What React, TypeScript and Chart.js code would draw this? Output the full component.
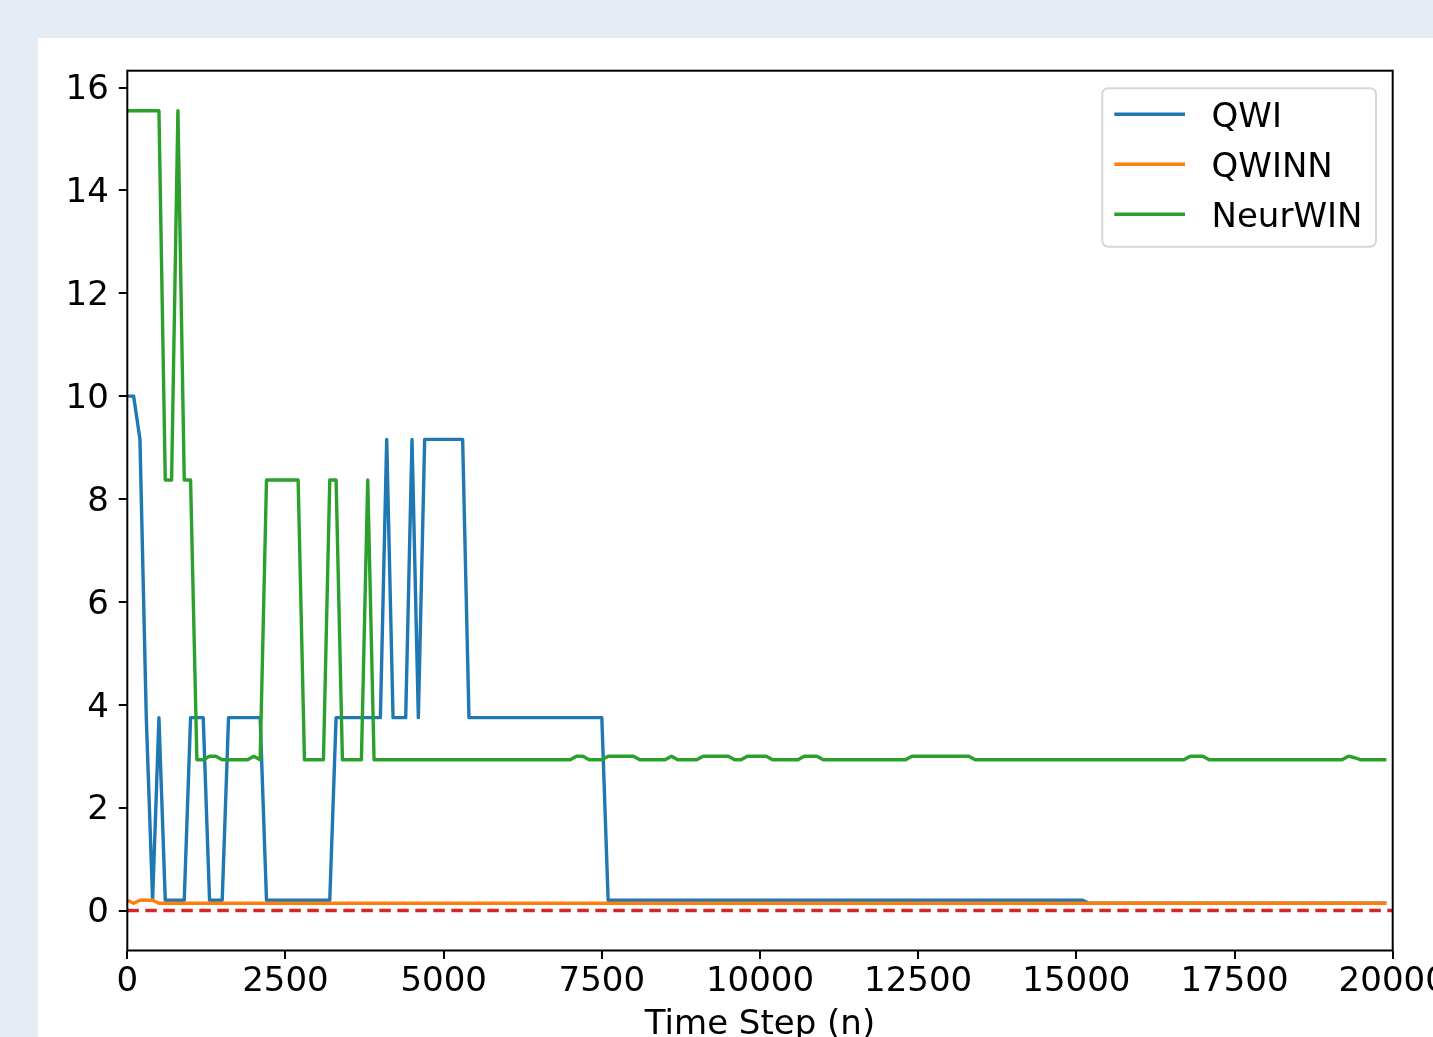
import React, { useEffect, useRef } from "react";
import { Chart, registerables } from "chart.js";

Chart.register(...registerables);

// ---- data ----
const qwiSteps = [0, 100, 200, 300, 400, 500, 600, 900, 1000, 1200, 1300, 1500, 1600, 2100, 2200, 3200, 3300, 4000, 4100, 4200, 4400, 4500, 4600, 4700, 5300, 5400, 7500, 7600, 15100, 15200, 19900];
const qwiValues = [10, 10, 9.16, 3.75, 0.2, 3.75, 0.2, 0.2, 3.75, 3.75, 0.2, 0.2, 3.75, 3.75, 0.2, 0.2, 3.75, 3.75, 9.16, 3.75, 3.75, 9.16, 3.75, 9.16, 9.16, 3.75, 3.75, 0.2, 0.2, 0.14, 0.14];

const qwinnSteps = [0, 100, 200, 400, 500, 19900];
const qwinnValues = [0.2, 0.14, 0.2, 0.2, 0.14, 0.14];

const neurwinSteps = [0, 500, 600, 700, 800, 900, 1000, 1100, 1200, 1300, 1400, 1500, 1900, 2000, 2100, 2200, 2700, 2800, 3100, 3200, 3300, 3400, 3700, 3800, 3900, 7000, 7100, 7200, 7300, 7500, 7600, 8000, 8100, 8500, 8600, 8700, 9000, 9100, 9500, 9600, 9700, 9800, 10100, 10200, 10600, 10700, 10900, 11000, 12300, 12400, 13300, 13400, 16700, 16800, 17000, 17100, 19200, 19300, 19400, 19500, 19900];
const neurwinValues = [15.55, 15.55, 8.37, 8.37, 15.55, 8.37, 8.37, 2.93, 2.93, 3.0, 3.0, 2.93, 2.93, 3.0, 2.93, 8.37, 8.37, 2.93, 2.93, 8.37, 8.37, 2.93, 2.93, 8.37, 2.93, 2.93, 3.0, 3.0, 2.93, 2.93, 3.0, 3.0, 2.93, 2.93, 3.0, 2.93, 2.93, 3.0, 3.0, 2.93, 2.93, 3.0, 3.0, 2.93, 2.93, 3.0, 3.0, 2.93, 2.93, 3.0, 3.0, 2.93, 2.93, 3.0, 3.0, 2.93, 2.93, 3.0, 2.97, 2.93, 2.93];

const refSteps = [0, 20000];
const refValues = [0, 0];

const seriesLabels = ["QWI", "QWINN", "NeurWIN"];
const seriesColors = ["#1f77b4", "#ff7f0e", "#2ca02c"];
const refColor = "#d62728";

const xTicks = [0, 2500, 5000, 7500, 10000, 12500, 15000, 17500, 20000];
const yTicks = [0, 2, 4, 6, 8, 10, 12, 14, 16];
const xTitle = "Time Step (n)";

const FONT = "'DejaVu Sans', sans-serif";
const FS = 34;

const toPoints = (xs: number[], ys: number[]) => xs.map((x, i) => ({ x, y: ys[i] }));

const spinePlugin = {
  id: "spines",
  afterDatasetsDraw(chart: any) {
    const { ctx, chartArea: a } = chart;
    ctx.save();
    ctx.strokeStyle = "#000";
    ctx.lineWidth = 2;
    ctx.strokeRect(a.left, a.top, a.right - a.left, a.bottom - a.top);
    ctx.restore();
  },
};

const legendPlugin = {
  id: "mplLegend",
  afterDraw(chart: any) {
    const { ctx } = chart;
    const bx = 1064.3, by = 50.3, bw = 1338 - 1064.3, bh = 208.7 - 50.3, r = 6;
    ctx.save();
    ctx.beginPath();
    ctx.moveTo(bx + r, by);
    ctx.lineTo(bx + bw - r, by);
    ctx.arcTo(bx + bw, by, bx + bw, by + r, r);
    ctx.lineTo(bx + bw, by + bh - r);
    ctx.arcTo(bx + bw, by + bh, bx + bw - r, by + bh, r);
    ctx.lineTo(bx + r, by + bh);
    ctx.arcTo(bx, by + bh, bx, by + bh - r, r);
    ctx.lineTo(bx, by + r);
    ctx.arcTo(bx, by, bx + r, by, r);
    ctx.closePath();
    ctx.fillStyle = "rgba(255,255,255,0.8)";
    ctx.fill();
    ctx.strokeStyle = "#d6d6d6";
    ctx.lineWidth = 2;
    ctx.stroke();
    const rows = [76.3, 126.3, 176.3];
    chart.data.datasets.slice(0, 3).forEach((ds: any, i: number) => {
      const y = rows[i];
      ctx.beginPath();
      ctx.moveTo(1076.3, y);
      ctx.lineTo(1147, y);
      ctx.strokeStyle = ds.borderColor;
      ctx.lineWidth = 3.4;
      ctx.stroke();
      ctx.fillStyle = "#000";
      ctx.font = `${FS}px ${FONT}`;
      ctx.textBaseline = "alphabetic";
      ctx.textAlign = "left";
      ctx.fillText(ds.label, 1173.5, y + 12.4);
    });
    ctx.restore();
  },
};

export default function App() {
  const ref = useRef<HTMLCanvasElement | null>(null);

  useEffect(() => {
    if (!ref.current) return;
    const tickFont = { family: FONT, size: FS };
    const chart = new Chart(ref.current, {
      type: "line",
      data: {
        datasets: [
          { label: seriesLabels[0], data: toPoints(qwiSteps, qwiValues), borderColor: seriesColors[0], borderWidth: 3.4, pointRadius: 0, order: 4, borderJoinStyle: "round" },
          { label: seriesLabels[1], data: toPoints(qwinnSteps, qwinnValues), borderColor: seriesColors[1], borderWidth: 3.4, pointRadius: 0, order: 3, borderJoinStyle: "round" },
          { label: seriesLabels[2], data: toPoints(neurwinSteps, neurwinValues), borderColor: seriesColors[2], borderWidth: 3.4, pointRadius: 0, order: 2, borderJoinStyle: "round" },
          { label: "ref", data: toPoints(refSteps, refValues), borderColor: refColor, borderWidth: 3.4, pointRadius: 0, order: 1, borderDash: [11.5, 6.5] },
        ],
      },
      options: {
        responsive: false,
        animation: false,
        devicePixelRatio: 1,
        layout: { padding: { left: 0, top: 32.7, right: 125.3, bottom: 0 } },
        plugins: { legend: { display: false }, tooltip: { enabled: false } },
        scales: {
          x: {
            type: "linear",
            min: 0,
            max: 20000,
            afterBuildTicks: (a: any) => { a.ticks = xTicks.map((v) => ({ value: v })); },
            afterFit: (a: any) => { a.height = 127.5; },
            grid: { display: true, drawOnChartArea: false, drawTicks: true, tickLength: 8.5, color: "#000", lineWidth: 2 },
            border: { display: false },
            ticks: { font: tickFont, color: "#000", padding: 3, maxRotation: 0, autoSkip: false, callback: (v: any) => String(v) },
            title: { display: true, text: xTitle, font: tickFont, color: "#000", padding: { top: 0, bottom: 32 } },
          },
          y: {
            type: "linear",
            min: -0.7775,
            max: 16.3275,
            afterBuildTicks: (a: any) => { a.ticks = yTicks.map((v) => ({ value: v })); },
            afterFit: (a: any) => { a.width = 89.3; },
            grid: { display: true, drawOnChartArea: false, drawTicks: true, tickLength: 8.5, color: "#000", lineWidth: 2 },
            border: { display: false },
            ticks: { font: tickFont, color: "#000", padding: 10, labelOffset: 3, autoSkip: false, callback: (v: any) => String(v) },
          },
        },
      },
      plugins: [spinePlugin, legendPlugin],
    } as any);
    return () => chart.destroy();
  }, []);

  return (
    <div style={{ position: "absolute", left: 0, top: 0, width: 1433, height: 1037, background: "#e5ecf6", overflow: "hidden" }}>
      <div style={{ position: "absolute", left: 38, top: 38, width: 1500, height: 1100, background: "#ffffff" }} />
      <canvas ref={ref} width={1480} height={1040} style={{ position: "absolute", left: 38, top: 38, width: 1480, height: 1040 }} />
    </div>
  );
}
